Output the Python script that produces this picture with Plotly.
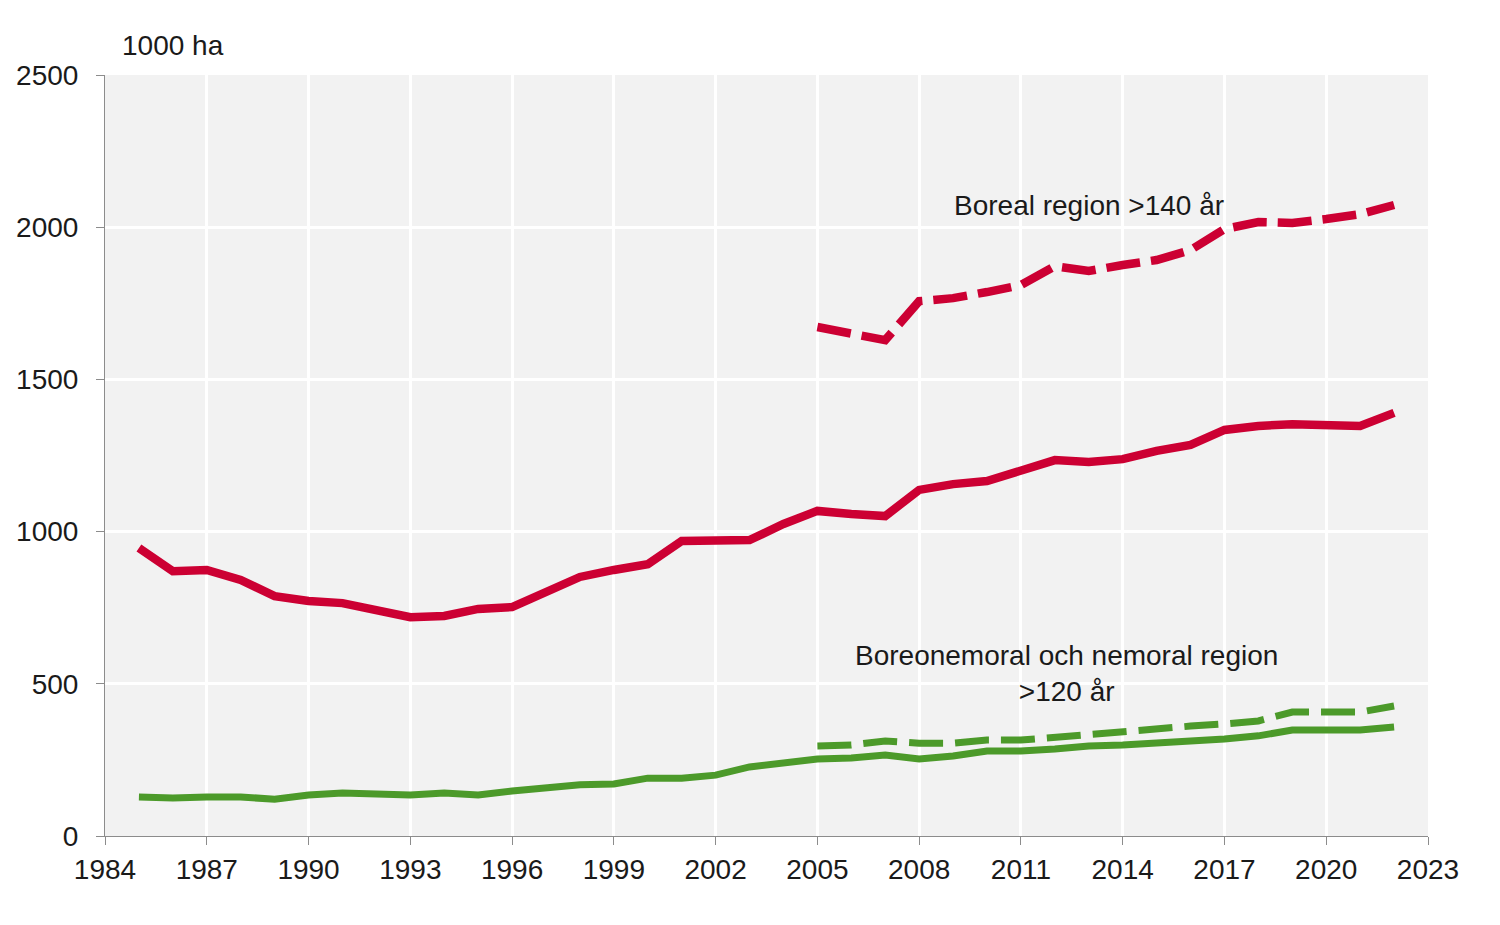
import plotly.graph_objects as go

years = list(range(1985, 2023))
years_dash = list(range(2005, 2023))

boreal_solid = [946, 870, 874, 841, 788, 772, 765, 739, 719, 723, 746, 752, 805, 851, 874, 893,
                969, 969, 972, 1025, 1068, 1058, 1051, 1137, 1156, 1166, 1199, 1235, 1229, 1238,
                1265, 1285, 1334, 1347, 1353, 1350, 1347, 1390]
boreal_dash = [1672, 1652, 1629, 1757, 1767, 1787, 1810, 1872, 1856, 1876, 1892, 1925, 1994,
               2017, 2014, 2027, 2043, 2073]
nemoral_solid = [128, 125, 128, 128, 121, 135, 141, 138, 135, 141, 135, 148, 158, 168, 171, 190,
                 190, 200, 227, 240, 253, 256, 266, 253, 263, 279, 279, 286, 296, 299, 305, 312,
                 319, 329, 348, 348, 348, 358]
nemoral_dash = [296, 299, 312, 305, 305, 315, 315, 325, 332, 342, 352, 361, 368, 378, 407, 407,
                407, 427]

x_ticks = list(range(1984, 2024, 3))
y_ticks = [0, 500, 1000, 1500, 2000, 2500]

RED = "#CC0033"
GREEN = "#4C9A2A"
FONT = "Liberation Sans"

W, H = 1500, 925
ML, MR, MT, MB = 97, 80, 67, 97

fig = go.Figure()
fig.add_trace(go.Scatter(x=years, y=boreal_solid, mode="lines",
                         line=dict(color=RED, width=8.5), showlegend=False))
fig.add_trace(go.Scatter(x=years_dash, y=boreal_dash, mode="lines",
                         line=dict(color=RED, width=8.5, dash="34px,11px"), showlegend=False))
fig.add_trace(go.Scatter(x=years, y=nemoral_solid, mode="lines",
                         line=dict(color=GREEN, width=7), showlegend=False))
fig.add_trace(go.Scatter(x=years_dash, y=nemoral_dash, mode="lines",
                         line=dict(color=GREEN, width=7, dash="34px,12px"), showlegend=False))

fig.update_layout(
    width=W, height=H,
    margin=dict(l=ML, r=MR, t=MT, b=MB),
    paper_bgcolor="white", plot_bgcolor="#F2F2F2",
    font=dict(family=FONT, size=28, color="#1a1a1a"),
    xaxis=dict(range=[1984, 2023], tickvals=x_ticks, showgrid=True, gridcolor="white",
               gridwidth=3, showline=True, linecolor="#8c8c8c", linewidth=1,
               ticks="outside", ticklen=8, tickcolor="#8c8c8c", zeroline=False,
               tickfont=dict(size=28), automargin=False),
    yaxis=dict(range=[0, 2500], tickvals=y_ticks, showgrid=True, gridcolor="white",
               gridwidth=3, showline=True, linecolor="#8c8c8c", linewidth=1,
               ticks="outside", ticklen=8, tickcolor="#8c8c8c", zeroline=False,
               tickfont=dict(size=28), ticklabelstandoff=12, automargin=False),
    annotations=[
        dict(text="1000 ha", x=(165 - ML) / (W - ML - MR), y=1 + (MT - 38) / (H - MT - MB),
             xref="paper", yref="paper", showarrow=False, font=dict(size=28),
             xanchor="center", yanchor="middle"),
        dict(text="Boreal region >140 år", x=2013.0, y=2072, xref="x", yref="y",
             showarrow=False, font=dict(size=28), xanchor="center", yanchor="middle"),
        dict(text="Boreonemoral och nemoral region<br>>120 år", x=2012.35, y=535,
             xref="x", yref="y", showarrow=False, font=dict(size=28),
             xanchor="center", yanchor="middle", align="center"),
    ],
)

fig.write_html("out.html")
